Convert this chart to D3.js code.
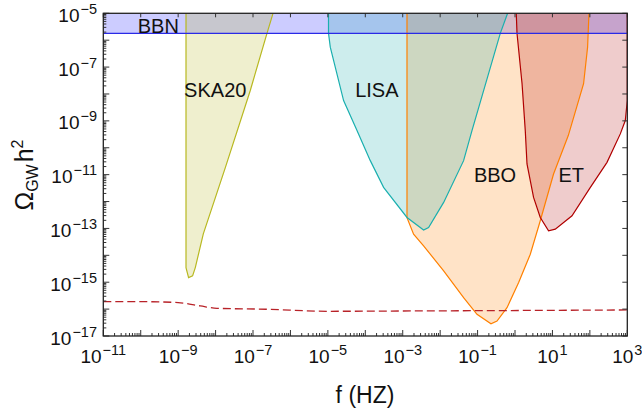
<!DOCTYPE html>
<html>
<head>
<meta charset="utf-8">
<script src="https://cdn.jsdelivr.net/npm/d3@7"></script>
<style>
  body { margin: 0; background: #fff; }
  svg { display: block; font-family: "Liberation Sans", Arial, sans-serif; }
</style>
</head>
<body>
<svg width="642" height="414"></svg>
<script>
// Sensitivity curves, [f (Hz), Omega_GW h^2].
var bbnLimit = 1.8e-6;

var ska20 = [[1.62e-9, 1e-5], [1.62e-9, 3.5e-15], [1.9e-9, 1.49e-15], [2.43e-9, 1.72e-15],
    [2.87e-9, 3.5e-15], [4.7e-9, 6.3e-14], [1.82e-8, 1.82e-11], [8.45e-8, 1.35e-8],
    [2.36e-7, 1.8e-6], [3.42e-7, 1e-5]];

var lisa = [[1.04e-5, 1e-5], [1.04e-5, 1.8e-6], [1.16e-5, 5.5e-7], [2.63e-5, 5.7e-9],
    [6.0e-5, 4.35e-10], [1.36e-4, 3.32e-11], [3.08e-4, 3.36e-12], [1.3e-3, 2.56e-13],
    [3.61e-3, 8.7e-14], [4.91e-3, 1.08e-13], [1.24e-2, 9.3e-13], [4.23e-2, 3.32e-11],
    [7.08e-2, 4.35e-10], [0.404, 1.8e-6], [0.634, 1e-5]];

var bbo = [[1.3e-3, 1e-5], [1.3e-3, 2.5e-13], [1.95e-3, 6.15e-14], [3.61e-3, 2.25e-14],
    [1.24e-2, 2.64e-15], [4.23e-2, 2.67e-16], [9.64e-2, 6.4e-17], [0.228, 2.86e-17],
    [0.33, 3.6e-17], [0.611, 1.13e-16], [1.25, 9.7e-16], [2.56, 1.1e-14], [4.73, 1.93e-13],
    [10.7, 1.06e-11], [26.5, 2.84e-10], [67.9, 2.4e-8], [86.9, 5.5e-7], [94.6, 1e-5]];

var et = [[1.08, 1e-5], [1.13, 1.8e-6], [1.54, 2.46e-8], [1.88, 4.35e-10], [2.09, 2.5e-11],
    [3.13, 1.42e-12], [4.73, 2.56e-13], [7.88, 8.2e-14], [11.9, 9.4e-14], [33.3, 2.96e-13],
    [103, 3.36e-12], [287, 2.87e-11], [650, 3.28e-10], [884, 1.03e-9], [1000, 5.7e-9],
    [1000, 1e-5]];

var signal = [[1e-11, 1.89e-16], [1e-10, 1.89e-16], [1e-9, 1.75e-16], [3.9e-9, 1.31e-16],
    [1.09e-8, 1.07e-16], [2.2e-7, 9.9e-17], [1e-5, 8.3e-17], [1e-3, 8.5e-17], [1e3, 9.3e-17]];

var labelNames = ["BBN", "SKA20", "LISA", "BBO", "ET"];
var labelFreq = [2.95e-10, 9.8e-9, 2.03e-4, 0.292, 31.8];
var labelOmega = [1.9e-6, 7.8e-9, 7.8e-9, 5.5e-12, 5.5e-12];

var xTickExps = [-11, -9, -7, -5, -3, -1, 1, 3];
var yTickExps = [-5, -7, -9, -11, -13, -15, -17];

//==========================================================================
// Scales and layout.

var svg = d3.select("svg");

var x = d3.scaleLog().domain([1e-11, 1e3]).range([103.3, 627.3]);
var y = d3.scaleLog().domain([1e-17, 1e-5]).range([336, 13.3]);

var x0 = x.range()[0], x1 = x.range()[1];
var y0 = y.range()[1], y1 = y.range()[0];

svg.append("clipPath").attr("id", "plot")
    .append("rect")
    .attr("x", x0).attr("y", y0)
    .attr("width", x1 - x0).attr("height", y1 - y0);

var chart = svg.append("g").attr("clip-path", "url(#plot)");

var line = d3.line()
    .x(function(d) { return x(d[0]); })
    .y(function(d) { return y(d[1]); });

// BBN band goes underneath everything
chart.append("rect")
    .attr("x", x0).attr("y", y0)
    .attr("width", x1 - x0)
    .attr("height", y(bbnLimit) - y0)
    .attr("fill", "rgb(0,0,255)")
    .attr("fill-opacity", 0.2);

var regions = [
    { pts: ska20, color: "#b8b820", alpha: 0.22 },
    { pts: bbo, color: "#ff8000", alpha: 0.22 },
    { pts: lisa, color: "#1aafaf", alpha: 0.22 },
    { pts: et, color: "#b00000", alpha: 0.2 }
];

regions.forEach(function(r) {
    chart.append("path")
        .attr("d", line(r.pts) + "Z")
        .attr("fill", r.color)
        .attr("fill-opacity", r.alpha)
        .attr("stroke", "none");
});

regions.forEach(function(r) {
    chart.append("path")
        .attr("d", line(r.pts))
        .attr("fill", "none")
        .attr("stroke", r.color)
        .attr("stroke-width", 1.2);
});

chart.append("line")
    .attr("x1", x0).attr("x2", x1)
    .attr("y1", y(bbnLimit)).attr("y2", y(bbnLimit))
    .attr("stroke", "#2a2ae6")
    .attr("stroke-width", 1.2);

chart.append("path")
    .attr("d", line.curve(d3.curveMonotoneX)(signal))
    .attr("fill", "none")
    .attr("stroke", "#b82228")
    .attr("stroke-width", 1.3)
    .attr("stroke-dasharray", "8,4");

//==========================================================================
// Labels inside the plot.

svg.append("g").selectAll("text")
    .data(labelNames)
    .enter()
    .append("text")
    .attr("x", function(d, i) { return x(labelFreq[i]); })
    .attr("y", function(d, i) { return y(labelOmega[i]); })
    .attr("text-anchor", "middle")
    .attr("font-size", 20)
    .attr("fill", "#111")
    .text(function(d) { return d; });

//==========================================================================
// Frame and ticks.

var decadesX = d3.range(-11, 4);
var decadesY = d3.range(-17, -4);
var minorX = [], minorY = [];
decadesX.slice(0, -1).forEach(function(e) {
    for (var m = 2; m < 10; m++) minorX.push(m * Math.pow(10, e));
});
decadesY.slice(0, -1).forEach(function(e) {
    for (var m = 2; m < 10; m++) minorY.push(m * Math.pow(10, e));
});

var ticks = svg.append("g")
    .attr("stroke", "#333")
    .attr("stroke-width", 1);

function addTicks(vals, scale, horizontal, base, len) {
    vals.forEach(function(v) {
        var p = scale(v);
        if (horizontal) {
            ticks.append("line").attr("x1", p).attr("x2", p)
                .attr("y1", base).attr("y2", base + len);
        } else {
            ticks.append("line").attr("y1", p).attr("y2", p)
                .attr("x1", base).attr("x2", base + len);
        }
    });
}

var majX = decadesX.map(function(e) { return Math.pow(10, e); });
var majY = decadesY.map(function(e) { return Math.pow(10, e); });

addTicks(majX, x, true, y1, -6);
addTicks(minorX, x, true, y1, -3);
addTicks(majY, y, false, x0, 6);
addTicks(minorY, y, false, x0, 3);
addTicks(majX, x, true, y0, 4);
addTicks(majY, y, false, x1, -5);

svg.append("rect")
    .attr("x", x0).attr("y", y0)
    .attr("width", x1 - x0).attr("height", y1 - y0)
    .attr("fill", "none")
    .attr("stroke", "#222")
    .attr("stroke-width", 1.3);

// tick labels with superscript exponents
function powerLabel(sel, e) {
    sel.append("tspan").text("10");
    sel.append("tspan")
        .attr("dy", -8)
        .attr("dx", 1)
        .attr("font-size", 14.5)
        .text(e < 0 ? "\u2212" + Math.abs(e) : String(e));
}

xTickExps.forEach(function(e) {
    var t = svg.append("text")
        .attr("x", x(Math.pow(10, e)))
        .attr("y", y1 + 27)
        .attr("text-anchor", "middle")
        .attr("font-size", 19)
        .attr("fill", "#111");
    powerLabel(t, e);
});

yTickExps.forEach(function(e) {
    var t = svg.append("text")
        .attr("x", 97)
        .attr("y", y(Math.pow(10, e)) + 8.5)
        .attr("text-anchor", "end")
        .attr("font-size", 19)
        .attr("fill", "#111");
    powerLabel(t, e);
});

//==========================================================================
// Axis titles.

svg.append("text")
    .attr("x", 365)
    .attr("y", 403)
    .attr("text-anchor", "middle")
    .attr("font-size", 23)
    .attr("fill", "#111")
    .text("f (HZ)");

var yTitle = svg.append("text")
    .attr("transform", "translate(33,175) rotate(-90)")
    .attr("text-anchor", "middle")
    .attr("font-size", 25)
    .attr("fill", "#111");
yTitle.append("tspan").text("\u03A9");
yTitle.append("tspan").attr("dy", 5).attr("font-size", 16).text("GW");
yTitle.append("tspan").attr("dy", -5).attr("dx", 2).text("h");
yTitle.append("tspan").attr("dy", -10).attr("font-size", 16).text("2");
</script>
</body>
</html>
